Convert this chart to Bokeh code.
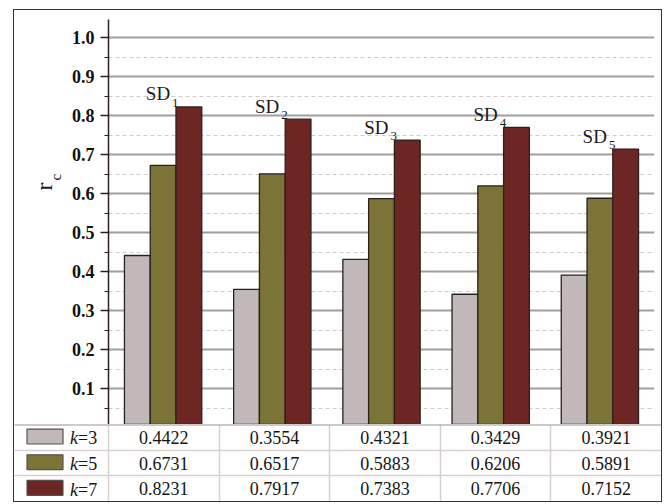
import numpy as np
from bokeh.plotting import figure
from bokeh.layouts import column
from bokeh.models import (Range1d, SingleIntervalTicker, PrintfTickFormatter, Title,
                          ColumnDataSource, Grid, FixedTicker, Span)
from bokeh.core.properties import value
from bokeh.embed import file_html
from bokeh.resources import INLINE

# ---------------- data ----------------
group_names = ["SD", "SD", "SD", "SD", "SD"]
group_subs = ["1", "2", "3", "4", "5"]
series_labels = ["k", "k", "k"]
series_suffix = ["=3", "=5", "=7"]
k3 = [0.4422, 0.3554, 0.4321, 0.3429, 0.3921]
k5 = [0.6731, 0.6517, 0.5883, 0.6206, 0.5891]
k7 = [0.8231, 0.7917, 0.7383, 0.7706, 0.7152]
colors = ["#c1b9b9", "#7b7436", "#6d2622"]

SERIF = value("Liberation Serif")
series = [k3, k5, k7]
idx = np.arange(len(k3))
bar_w = 0.236
offsets = [-bar_w, 0.0, bar_w]

W = 647
LEFT = 94
H1 = 414
H2 = 77

# ---------------- chart ----------------
p = figure(width=W, height=H1, output_backend="svg", toolbar_location=None,
           x_range=Range1d(-0.5, 4.5), y_range=Range1d(0.0089, 1.0474),
           x_axis_location=None, min_border_left=LEFT, min_border_right=7,
           min_border_top=9, min_border_bottom=0, tools="", frame_align=False)
p.outline_line_color = None
p.background_fill_color = "white"
p.border_fill_color = "white"

ax = p.yaxis[0]
ax.ticker = SingleIntervalTicker(interval=0.1, num_minor_ticks=2)
ax.formatter = PrintfTickFormatter(format="%.1f")
ax.major_label_text_font = "Liberation Serif"
ax.major_label_text_font_style = "bold"
ax.major_label_text_font_size = "18px"
ax.major_label_text_color = "#111111"
ax.major_label_standoff = 6
ax.axis_line_color = "#2b2020"
ax.axis_line_width = 1.5
ax.major_tick_line_color = "#2b2020"
ax.major_tick_line_width = 1.5
ax.major_tick_out = 8
ax.major_tick_in = 0
ax.minor_tick_line_color = "#2b2020"
ax.minor_tick_line_width = 1.2
ax.minor_tick_out = 4
ax.minor_tick_in = 0

# y-axis label r_c, as two titles in the left panel
p.add_layout(Title(text="c", text_font="Liberation Serif", text_font_size="15px",
                   text_font_style="normal", text_color="#1a1a1a", align="left",
                   vertical_align="top", offset=244, standoff=6), "left")
p.add_layout(Title(text="r", text_font="Liberation Serif", text_font_size="24px",
                   text_font_style="normal", text_color="#1a1a1a", align="left",
                   vertical_align="bottom", offset=234, standoff=-24), "left")

p.xgrid.visible = False
p.ygrid.grid_line_color = "#a59c9c"
p.ygrid.grid_line_width = 1.8
p.ygrid.minor_grid_line_color = "#d3c9c9"
p.ygrid.minor_grid_line_dash = "4 3"
p.ygrid.minor_grid_line_width = 1

for vals, off, col in zip(series, offsets, colors):
    p.vbar(x=idx + off, top=vals, width=bar_w, bottom=0, fill_color=col,
           line_color="#2a2020", line_width=1.3)

# group labels SD_n
src = ColumnDataSource(dict(x=idx, y=k7, t=group_names, s=group_subs))
p.text(x="x", y="y", text="t", source=src, text_align="right", text_baseline="alphabetic",
       x_offset=7, y_offset=-13, text_font=SERIF, text_font_size="19px", text_color="#1a1a1a")
p.text(x="x", y="y", text="s", source=src, text_align="left", text_baseline="alphabetic",
       x_offset=9, y_offset=-4, text_font=SERIF, text_font_size="13px", text_color="#1a1a1a")

# ---------------- table ----------------
COLW = (W - LEFT) / 5.0
x0 = -0.5 - LEFT / COLW


def px_to_x(px):
    return -0.5 - (LEFT - px) / COLW


t = figure(width=W, height=H2, output_backend="svg", toolbar_location=None,
           x_range=Range1d(x0, 4.5), y_range=Range1d(0.0, 3),
           x_axis_location=None, y_axis_location=None, min_border=0,
           min_border_left=0, min_border_right=0, min_border_top=0, min_border_bottom=0,
           tools="", frame_align=False)
t.outline_line_color = None
t.grid.visible = False
t.add_layout(Grid(dimension=0, ticker=FixedTicker(ticks=[-0.5, 0.5, 1.5, 2.5, 3.5]),
                  grid_line_color="#d8cfcf", grid_line_width=1.5))
t.add_layout(Grid(dimension=1, ticker=FixedTicker(ticks=[1, 2]),
                  grid_line_color="#d8cfcf", grid_line_width=1.5))
t.add_layout(Span(location=3, dimension="width", line_color="#9d9393", line_width=2))

row_y = [2.5, 1.5, 0.5]
for vals, ry, col, lab, suf in zip(series, row_y, colors, series_labels, series_suffix):
    s = ColumnDataSource(dict(x=idx, y=[ry] * len(vals), t=["%.4f" % v for v in vals]))
    t.text(x="x", y="y", text="t", source=s, text_align="center", text_baseline="middle",
           text_font=SERIF, text_font_size="18px", text_color="#141414")
    t.rect(x=[px_to_x(30.5)], y=[ry + 0.03], width=36 / COLW, height=0.58, fill_color=col,
           line_color="#5a5050", line_width=1.2)
    t.text(x=[px_to_x(55.5)], y=[ry], text=[lab], text_align="left", text_baseline="middle",
           y_offset=1, text_font=SERIF, text_font_style="italic", text_font_size="18px",
           text_color="#141414")
    t.text(x=[px_to_x(55.5)], y=[ry], text=[suf], text_align="left", text_baseline="middle",
           x_offset=8, y_offset=1, text_font=SERIF, text_font_size="18px",
           text_color="#141414")

layout = column(p, t, spacing=0,
                styles={"border": "1.5px solid #3b3030", "margin-left": "13px",
                        "margin-top": "9px"})

open("out.html", "w").write(file_html(layout, INLINE))
